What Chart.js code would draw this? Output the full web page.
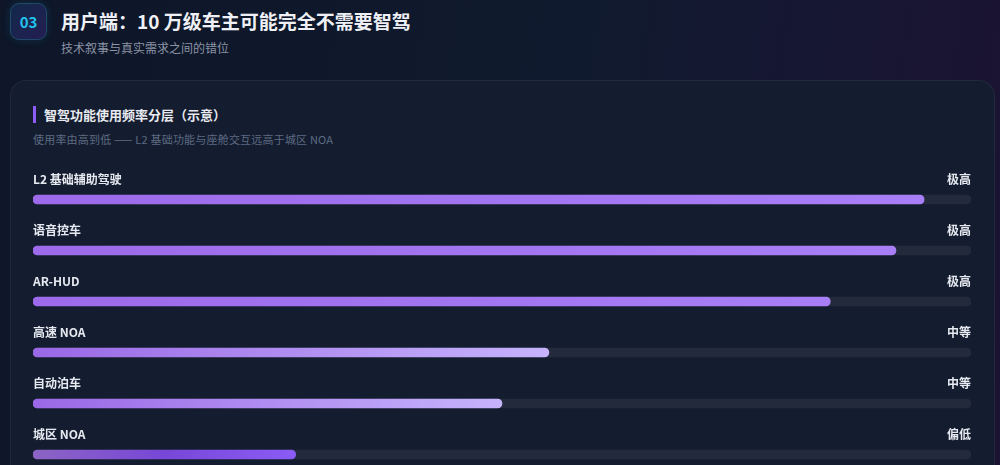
<!DOCTYPE html>
<html>
<head>
<meta charset="utf-8">
<script src="https://cdn.jsdelivr.net/npm/chart.js@4.4.1/dist/chart.umd.min.js"></script>
<style>
  html, body { margin: 0; padding: 0; }
  body {
    width: 1000px; height: 465px; overflow: hidden; position: relative;
    font-family: "Noto Sans CJK SC", "Noto Sans", sans-serif;
    background: linear-gradient(100deg, #0e1628 0%, #101a2e 55%, #171633 80%, #1c1232 100%);
  }
  .badge {
    position: absolute; left: 10px; top: 3px; width: 35px; height: 35px;
    border-radius: 9px; border: 1px solid #1f4b6b;
    background: linear-gradient(135deg, #12294a, #241e52);
    box-shadow: 0 0 8px rgba(34, 197, 232, 0.15);
    color: #22c3ec; font-weight: 700; font-size: 15px;
    display: flex; align-items: center; justify-content: center;
  }
  .title {
    position: absolute; left: 61px; top: 7px; color: #eef0f5;
    font-size: 19px; font-weight: 700; white-space: nowrap; letter-spacing: 0;
  }
  .subtitle {
    position: absolute; left: 61px; top: 39px; color: #8b93a5; font-size: 12px; white-space: nowrap;
  }
  .card {
    position: absolute; left: 10px; top: 80px; width: 983px; height: 420px;
    border-radius: 16px; border: 1px solid rgba(255,255,255,0.06);
    background: #141d2f;
  }
  .card-title {
    position: absolute; left: 33px; top: 106px; height: 17px; padding-left: 8px;
    border-left: 3px solid #8b5cf6; color: #e8eaf0; font-size: 13px; font-weight: 700;
    line-height: 17px; white-space: nowrap;
  }
  .card-sub {
    position: absolute; left: 33px; top: 131px; color: #5d6a82; font-size: 11px;
    letter-spacing: 0.2px; white-space: nowrap;
  }
  .wrap { position: absolute; left: 20px; top: 160px; width: 970px; height: 320px; }
</style>
</head>
<body>
<div class="badge">03</div>
<div class="title">用户端：10 万级车主可能完全不需要智驾</div>
<div class="subtitle">技术叙事与真实需求之间的错位</div>
<div class="card"></div>
<div class="card-title">智驾功能使用频率分层（示意）</div>
<div class="card-sub">使用率由高到低 —— L2 基础功能与座舱交互远高于城区 NOA</div>
<div class="wrap"><canvas id="c"></canvas></div>
<script>
const features = ['L2 基础辅助驾驶', '语音控车', 'AR-HUD', '高速 NOA', '自动泊车', '城区 NOA'];
const usage = [95, 92, 85, 55, 50, 28];
const levels = ['极高', '极高', '极高', '中等', '中等', '偏低'];
const trackMax = [100, 100, 100, 100, 100, 100];

// gradient stops for each bar (left -> right)
const barStops = [
  ['#9c6aea', '#a87ff6'],
  ['#9c6aea', '#a87ff6'],
  ['#9c6aea', '#a87ff6'],
  ['#9a68e6', '#c6b3fc'],
  ['#9a68e6', '#c6b3fc'],
  ['#8c64c4', '#7847d8', '#8b5cf6']
];

function barFill(ctx) {
  const chart = ctx.chart;
  const area = chart.chartArea;
  const i = ctx.dataIndex;
  const stops = barStops[i] || barStops[0];
  if (!area) return stops[0];
  const x = chart.scales.x;
  const x0 = x.getPixelForValue(0);
  const x1 = x.getPixelForValue(usage[i]);
  const g = chart.ctx.createLinearGradient(x0, 0, x1, 0);
  stops.forEach((c, k) => g.addColorStop(k / (stops.length - 1), c));
  return g;
}

const rowText = {
  id: 'rowText',
  afterDatasetsDraw(chart) {
    const c = chart.ctx;
    const y = chart.scales.y;
    const area = chart.chartArea;
    c.save();
    c.font = 'bold 12px "Noto Sans CJK SC", sans-serif';
    c.fillStyle = '#e6e9f0';
    c.textBaseline = 'middle';
    features.forEach((f, i) => {
      const cy = y.getPixelForValue(i) - 20.5;
      c.textAlign = 'left';
      c.fillText(f, area.left, cy);
      c.textAlign = 'right';
      c.fillText(levels[i], area.right, cy);
    });
    c.restore();
  }
};

new Chart(document.getElementById('c'), {
  type: 'bar',
  data: {
    labels: features,
    datasets: [
      {
        data: usage,
        backgroundColor: barFill,
        borderRadius: 5,
        borderSkipped: false,
        barThickness: 9,
        grouped: false,
        order: 1
      },
      {
        data: trackMax,
        backgroundColor: '#222a3b',
        borderRadius: 5,
        borderSkipped: false,
        barThickness: 9,
        grouped: false,
        order: 2
      }
    ]
  },
  options: {
    indexAxis: 'y',
    responsive: true,
    maintainAspectRatio: false,
    animation: false,
    layout: { padding: { left: 13, right: 19, top: 14, bottom: 0 } },
    scales: {
      x: { display: false, min: 0, max: 100 },
      y: { display: false }
    },
    plugins: {
      legend: { display: false },
      tooltip: { enabled: false }
    }
  },
  plugins: [rowText]
});
</script>
</body>
</html>
